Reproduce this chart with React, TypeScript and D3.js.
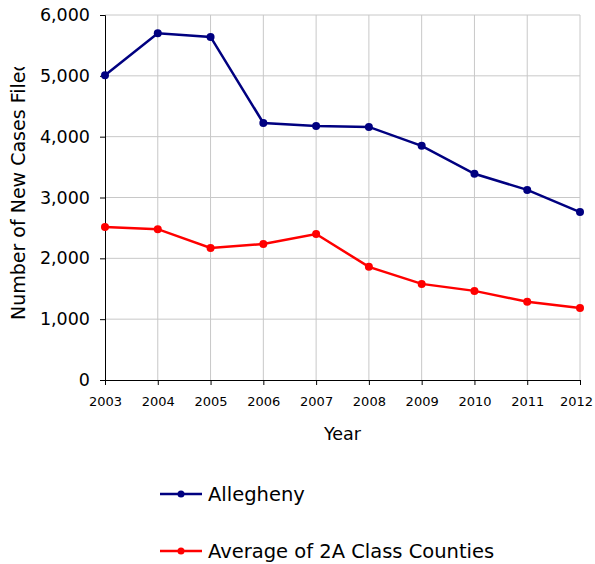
import React, { useEffect, useRef } from 'react';
import * as d3 from 'd3';

const years = [2003, 2004, 2005, 2006, 2007, 2008, 2009, 2010, 2011, 2012];
const allegheny = [5010, 5700, 5640, 4225, 4175, 4160, 3850, 3390, 3125, 2760];
const average2A = [2515, 2480, 2170, 2235, 2400, 1860, 1580, 1465, 1285, 1185];
const yTicks = [0, 1000, 2000, 3000, 4000, 5000, 6000];

const series = [
  { name: 'Allegheny', values: allegheny, color: '#000080' },
  { name: 'Average of 2A Class Counties', values: average2A, color: '#ff0000' },
];

const App = () => {
  const ref = useRef<SVGSVGElement>(null);

  useEffect(() => {
    const svg = d3.select(ref.current);
    svg.selectAll('*').remove();

    const width = 595;
    const height = 564;
    const margin = { top: 15, right: 15, bottom: 184, left: 105 };
    const font = '"DejaVu Sans", sans-serif';

    const x = d3.scaleLinear()
      .domain([2003, 2012])
      .range([margin.left, width - margin.right]);

    const y = d3.scaleLinear()
      .domain([0, 6000])
      .range([height - margin.bottom, margin.top]);

    // Gridlines
    svg.append('g')
      .selectAll('line')
      .data(years.slice(1))
      .enter().append('line')
      .attr('x1', d => x(d)).attr('x2', d => x(d))
      .attr('y1', y(0)).attr('y2', y(6000))
      .attr('stroke', '#c8c8c8').attr('stroke-width', 1);

    svg.append('g')
      .selectAll('line')
      .data(yTicks.slice(1))
      .enter().append('line')
      .attr('x1', x(2003)).attr('x2', x(2012))
      .attr('y1', d => y(d)).attr('y2', d => y(d))
      .attr('stroke', '#c8c8c8').attr('stroke-width', 1);

    // Axes
    const yAxis = svg.append('g')
      .attr('transform', `translate(${x(2003)},0)`)
      .call(d3.axisLeft(y).tickValues(yTicks).tickFormat(d3.format(',')).tickSizeOuter(0).tickSize(5).tickPadding(10));
    yAxis.selectAll('text').attr('font-size', 17.5).attr('font-family', font).attr('fill', '#000');

    const xAxis = svg.append('g')
      .attr('transform', `translate(0,${y(0)})`)
      .call(d3.axisBottom(x).tickValues(years).tickFormat(d3.format('d')).tickSizeOuter(0).tickSize(5).tickPadding(12));
    xAxis.selectAll('text').attr('font-size', 13).attr('font-family', font).attr('fill', '#000');
    // keep the last year label inside the page
    xAxis.selectAll<SVGTextElement, number>('text')
      .filter(d => d === 2012)
      .attr('x', -4);

    // Axis titles
    svg.append('text')
      .attr('x', (x(2003) + x(2012)) / 2)
      .attr('y', 440)
      .attr('text-anchor', 'middle')
      .attr('font-size', 17.5).attr('font-family', font)
      .text('Year');

    svg.append('defs').append('clipPath').attr('id', 'ylabClip')
      .append('rect').attr('x', 0).attr('y', 67).attr('width', 40).attr('height', 300);

    svg.append('g')
      .attr('clip-path', 'url(#ylabClip)')
      .append('text')
      .attr('transform', `translate(25,320) rotate(-90)`)
      .attr('text-anchor', 'start')
      .attr('font-size', 19).attr('font-family', font)
      .text('Number of New Cases Filed');

    // Lines and markers
    const line = d3.line<number>()
      .x((_, i) => x(years[i]))
      .y(d => y(d));

    series.forEach(s => {
      svg.append('path')
        .datum(s.values)
        .attr('d', line)
        .attr('fill', 'none')
        .attr('stroke', s.color)
        .attr('stroke-width', 2.5);

      svg.append('g')
        .selectAll('circle')
        .data(s.values)
        .enter().append('circle')
        .attr('cx', (_, i) => x(years[i]))
        .attr('cy', d => y(d))
        .attr('r', 4)
        .attr('fill', s.color);
    });

    // Legend
    const legend = svg.append('g');
    series.forEach((s, i) => {
      const ly = 494 + i * 57;
      legend.append('line')
        .attr('x1', 160).attr('x2', 202).attr('y1', ly).attr('y2', ly)
        .attr('stroke', s.color).attr('stroke-width', 2.5);
      legend.append('circle')
        .attr('cx', 181).attr('cy', ly).attr('r', 3.5).attr('fill', s.color);
      legend.append('text')
        .attr('x', 208).attr('y', ly + 7)
        .attr('font-size', 19.5).attr('font-family', font)
        .text(s.name);
    });
  }, []);

  return (
    <svg ref={ref} width={595} height={564} style={{ position: 'absolute', left: 0, top: 0, background: '#fff' }} />
  );
};

export default App;
